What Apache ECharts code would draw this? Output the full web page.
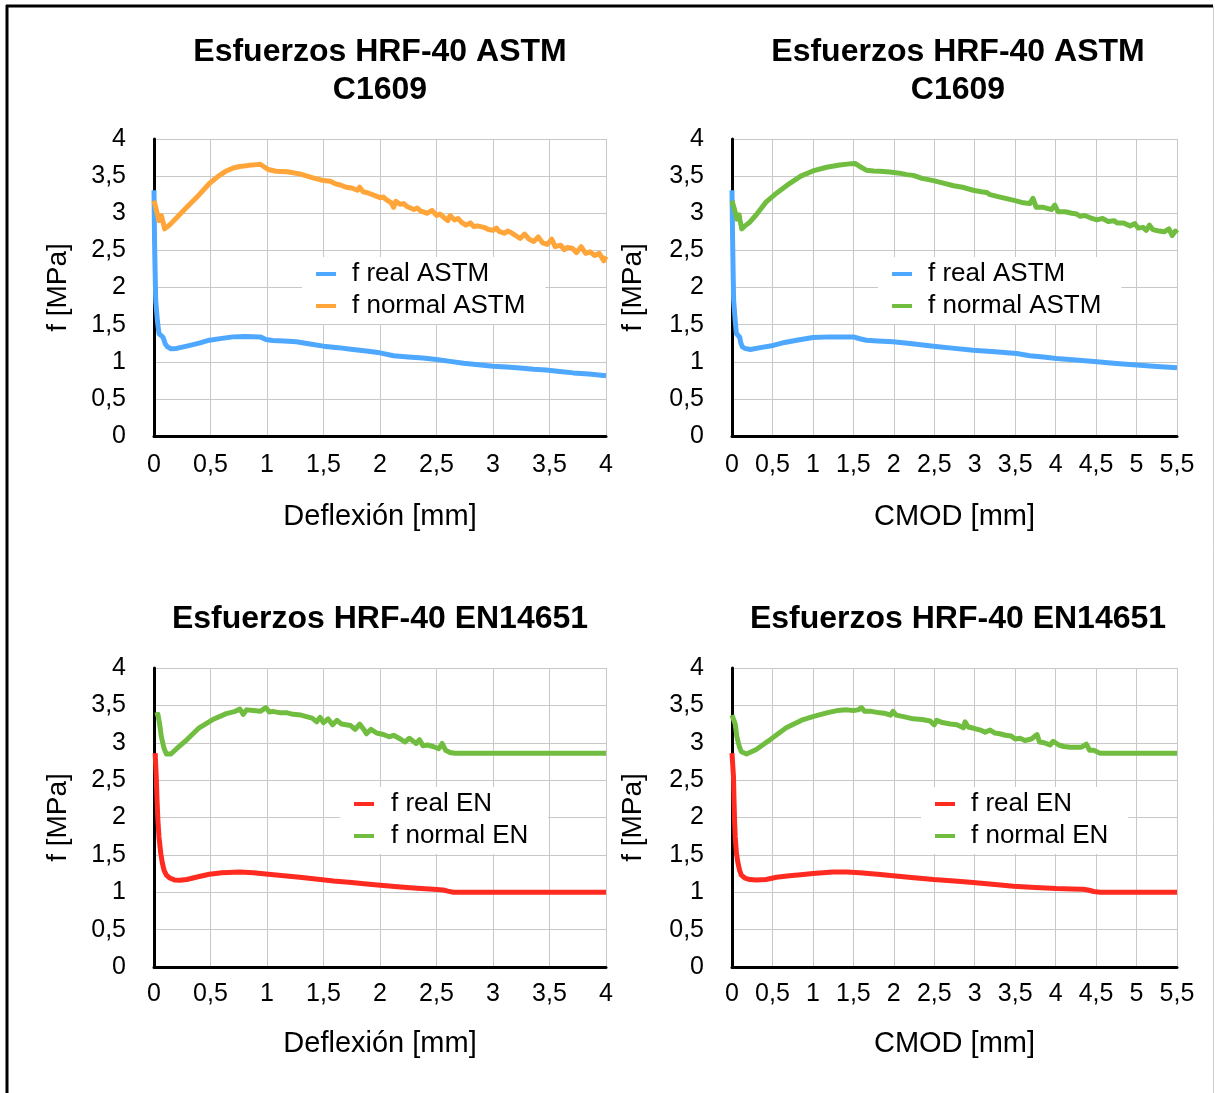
<!DOCTYPE html>
<html>
<head>
<meta charset="utf-8">
<script src="https://cdn.jsdelivr.net/npm/echarts@6/dist/echarts.min.js"></script>
<style>
html,body{margin:0;padding:0;background:#fff;}
#c{width:1215px;height:1093px;}
</style>
</head>
<body>
<div id="c"></div>
<script>
// ---------- DATA ----------
const titles = ['Esfuerzos HRF-40 ASTM\nC1609', 'Esfuerzos HRF-40 ASTM\nC1609', 'Esfuerzos HRF-40 EN14651', 'Esfuerzos HRF-40 EN14651'];
const xNames = ['Deflexión [mm]', 'CMOD [mm]', 'Deflexión [mm]', 'CMOD [mm]'];
const yName = 'f [MPa]';
const xMaxes = [4, 5.5, 4, 5.5];
const seriesNames = [['f real ASTM', 'f normal ASTM'], ['f real ASTM', 'f normal ASTM'], ['f real EN', 'f normal EN'], ['f real EN', 'f normal EN']];

// Chart 1: ASTM, deflection
const astmDefRealX = [0, 0.005, 0.015, 0.03, 0.044, 0.06, 0.08, 0.1, 0.12, 0.15, 0.2, 0.29, 0.4, 0.49, 0.6, 0.7, 0.8, 0.94, 0.99, 1.05, 1.15, 1.26, 1.38, 1.5, 1.63, 1.76, 1.88, 2.0, 2.12, 2.25, 2.38, 2.5, 2.62, 2.74, 2.87, 3.0, 3.12, 3.24, 3.36, 3.47, 3.59, 3.71, 3.85, 4.0];
const astmDefRealY = [3.31, 2.6, 1.83, 1.55, 1.38, 1.36, 1.33, 1.24, 1.2, 1.175, 1.18, 1.21, 1.25, 1.29, 1.315, 1.335, 1.34, 1.335, 1.3, 1.285, 1.28, 1.27, 1.24, 1.21, 1.19, 1.165, 1.145, 1.12, 1.08, 1.065, 1.05, 1.03, 1.005, 0.98, 0.96, 0.94, 0.93, 0.915, 0.9, 0.89, 0.87, 0.85, 0.835, 0.81];
const astmDefNormalX = [0, 0.02, 0.044, 0.065, 0.08, 0.094, 0.12, 0.15, 0.2, 0.29, 0.4, 0.49, 0.57, 0.64, 0.7, 0.76, 0.84, 0.91, 0.94, 0.97, 1.01, 1.08, 1.18, 1.29, 1.4, 1.5, 1.56, 1.6, 1.65, 1.7, 1.75, 1.8, 1.82, 1.85, 1.9, 1.95, 2.0, 2.03, 2.05, 2.1, 2.12, 2.14, 2.18, 2.21, 2.24, 2.3, 2.33, 2.36, 2.42, 2.46, 2.5, 2.53, 2.56, 2.6, 2.62, 2.66, 2.69, 2.72, 2.76, 2.8, 2.83, 2.86, 2.92, 2.96, 3.0, 3.03, 3.05, 3.1, 3.13, 3.16, 3.2, 3.24, 3.28, 3.32, 3.36, 3.4, 3.44, 3.48, 3.52, 3.55, 3.6, 3.63, 3.66, 3.7, 3.74, 3.78, 3.82, 3.86, 3.9, 3.94, 3.98, 4.0];
const astmDefNormalY = [3.17, 3.05, 2.9, 2.97, 2.88, 2.79, 2.82, 2.86, 2.94, 3.08, 3.25, 3.4, 3.5, 3.57, 3.61, 3.63, 3.645, 3.655, 3.66, 3.63, 3.59, 3.565, 3.56, 3.53, 3.48, 3.44, 3.43, 3.4, 3.38, 3.35, 3.34, 3.31, 3.35, 3.29, 3.27, 3.24, 3.21, 3.22, 3.19, 3.14, 3.08, 3.16, 3.12, 3.13, 3.09, 3.05, 3.07, 3.03, 3.0, 3.04, 2.97, 2.99, 2.95, 2.9, 2.97, 2.91, 2.93, 2.88, 2.84, 2.87, 2.82, 2.83, 2.81, 2.78, 2.77, 2.8, 2.76, 2.73, 2.76, 2.74, 2.7, 2.66, 2.72, 2.65, 2.62, 2.68, 2.6, 2.58, 2.65, 2.55, 2.57, 2.51, 2.54, 2.53, 2.47, 2.55, 2.46, 2.48, 2.43, 2.46, 2.36, 2.42];

// Chart 2: ASTM, CMOD
const astmCmodRealX = [0, 0.008, 0.02, 0.04, 0.054, 0.075, 0.095, 0.11, 0.128, 0.16, 0.227, 0.35, 0.51, 0.65, 0.8, 1.0, 1.21, 1.4, 1.5, 1.58, 1.66, 1.8, 1.99, 2.2, 2.49, 2.75, 2.98, 3.25, 3.52, 3.68, 3.85, 4.01, 4.25, 4.51, 4.75, 5.0, 5.25, 5.5];
const astmCmodRealY = [3.31, 2.6, 1.83, 1.55, 1.38, 1.36, 1.33, 1.25, 1.2, 1.18, 1.165, 1.19, 1.22, 1.26, 1.29, 1.326, 1.335, 1.335, 1.335, 1.31, 1.29, 1.28, 1.27, 1.245, 1.21, 1.18, 1.155, 1.135, 1.11, 1.08, 1.065, 1.045, 1.025, 1.0, 0.975, 0.955, 0.935, 0.92];
const astmCmodNormalX = [0, 0.033, 0.06, 0.087, 0.1, 0.12, 0.16, 0.22, 0.3, 0.42, 0.55, 0.71, 0.85, 1.0, 1.17, 1.33, 1.45, 1.52, 1.58, 1.66, 1.75, 1.83, 1.95, 2.07, 2.16, 2.24, 2.35, 2.49, 2.6, 2.74, 2.85, 2.98, 3.08, 3.15, 3.19, 3.3, 3.42, 3.5, 3.6, 3.68, 3.72, 3.76, 3.85, 3.95, 3.99, 4.03, 4.12, 4.2, 4.26, 4.3, 4.36, 4.45, 4.51, 4.58, 4.65, 4.72, 4.76, 4.84, 4.92, 4.98, 5.02, 5.08, 5.12, 5.16, 5.2, 5.28, 5.34, 5.4, 5.44, 5.48, 5.5];
const astmCmodNormalY = [3.17, 3.04, 2.92, 2.98, 2.9, 2.79, 2.83, 2.88, 2.98, 3.15, 3.27, 3.4, 3.5, 3.57, 3.62, 3.65, 3.665, 3.67, 3.63, 3.58, 3.57, 3.565, 3.555, 3.54, 3.52, 3.51, 3.47, 3.44, 3.41, 3.37, 3.35, 3.31, 3.29, 3.28, 3.25, 3.22, 3.19, 3.17, 3.14, 3.13, 3.2, 3.08, 3.08, 3.05, 3.11, 3.02, 3.02, 3.0, 2.99, 2.96, 2.97, 2.93, 2.91, 2.93, 2.89, 2.9, 2.87, 2.87, 2.83, 2.86, 2.8, 2.81, 2.77, 2.84, 2.78, 2.76, 2.75, 2.79, 2.7, 2.76, 2.73];

// Chart 3: EN, deflection
const enDefRealX = [0.01, 0.015, 0.02, 0.027, 0.035, 0.044, 0.06, 0.074, 0.09, 0.11, 0.14, 0.18, 0.23, 0.29, 0.4, 0.49, 0.6, 0.76, 0.88, 0.99, 1.15, 1.29, 1.45, 1.59, 1.75, 1.88, 2.03, 2.18, 2.33, 2.47, 2.56, 2.6, 2.65, 2.8, 3.0, 3.5, 4.0];
const enDefRealY = [2.86, 2.85, 2.55, 2.23, 1.95, 1.74, 1.52, 1.39, 1.29, 1.23, 1.19, 1.165, 1.16, 1.17, 1.21, 1.24, 1.26, 1.27, 1.26, 1.245, 1.22, 1.2, 1.175, 1.15, 1.13, 1.11, 1.09, 1.07, 1.055, 1.04, 1.03, 1.015, 1.0, 1.0, 1.0, 1.0, 1.0];
const enDefNormalX = [0.01, 0.035, 0.05, 0.065, 0.09, 0.11, 0.15, 0.2, 0.29, 0.4, 0.52, 0.64, 0.72, 0.76, 0.79, 0.82, 0.88, 0.94, 0.99, 1.02, 1.05, 1.12, 1.18, 1.23, 1.3, 1.35, 1.4, 1.44, 1.47, 1.5, 1.54, 1.58, 1.62, 1.66, 1.7, 1.74, 1.78, 1.82, 1.86, 1.88, 1.92, 1.97, 2.03, 2.08, 2.12, 2.18, 2.22, 2.26, 2.32, 2.35, 2.38, 2.42, 2.47, 2.52, 2.55, 2.58, 2.62, 2.66, 3.0, 3.5, 4.0];
const enDefNormalY = [3.37, 3.38, 3.25, 3.08, 2.92, 2.85, 2.85, 2.92, 3.04, 3.2, 3.31, 3.39, 3.42, 3.45, 3.38, 3.44, 3.43, 3.42, 3.47, 3.41, 3.42, 3.4, 3.4, 3.38, 3.37, 3.35, 3.33, 3.28, 3.34, 3.27, 3.32, 3.24, 3.3, 3.25, 3.24, 3.23, 3.18, 3.25, 3.17, 3.12, 3.18, 3.13, 3.11, 3.08, 3.1, 3.05, 3.01, 3.06, 2.99, 3.04, 2.96, 2.97, 2.95, 2.92, 2.99, 2.9, 2.87, 2.86, 2.86, 2.86, 2.86];

// Chart 4: EN, CMOD
const enCmodRealX = [0.0, 0.012, 0.018, 0.025, 0.032, 0.04, 0.055, 0.074, 0.095, 0.115, 0.16, 0.22, 0.3, 0.42, 0.55, 0.71, 0.85, 1.0, 1.25, 1.42, 1.58, 1.8, 1.99, 2.25, 2.49, 2.75, 2.98, 3.25, 3.48, 3.75, 4.01, 4.2, 4.34, 4.4, 4.47, 4.55, 4.8, 5.0, 5.5];
const enCmodRealY = [2.86, 2.85, 2.55, 2.23, 1.95, 1.74, 1.52, 1.39, 1.29, 1.23, 1.19, 1.17, 1.165, 1.17, 1.2, 1.22, 1.235, 1.25, 1.27, 1.27, 1.26, 1.24, 1.22, 1.195, 1.17, 1.15, 1.13, 1.105, 1.08, 1.065, 1.05, 1.045, 1.04, 1.03, 1.01, 1.0, 1.0, 1.0, 1.0];
const enCmodNormalX = [0, 0.02, 0.04, 0.06, 0.09, 0.115, 0.18, 0.3, 0.47, 0.67, 0.88, 1.0, 1.1, 1.21, 1.3, 1.42, 1.5, 1.56, 1.6, 1.64, 1.72, 1.83, 1.9, 1.96, 1.99, 2.03, 2.12, 2.24, 2.35, 2.45, 2.5, 2.53, 2.6, 2.7, 2.78, 2.86, 2.88, 2.92, 3.0, 3.07, 3.13, 3.19, 3.25, 3.31, 3.38, 3.45, 3.5, 3.56, 3.62, 3.7, 3.77, 3.8, 3.86, 3.93, 3.97, 4.04, 4.1, 4.18, 4.26, 4.32, 4.38, 4.42, 4.47, 4.55, 5.0, 5.5];
const enCmodNormalY = [3.37, 3.37, 3.25, 3.08, 2.95, 2.88, 2.85, 2.91, 3.04, 3.2, 3.31, 3.35, 3.38, 3.41, 3.43, 3.44, 3.43, 3.44, 3.47, 3.42, 3.42, 3.4, 3.39, 3.37, 3.42, 3.37, 3.35, 3.32, 3.31, 3.29, 3.24, 3.3, 3.27, 3.25, 3.24, 3.2, 3.28, 3.21, 3.19, 3.17, 3.14, 3.17, 3.13, 3.12, 3.1, 3.09, 3.05, 3.06, 3.03, 3.05, 3.11, 3.01, 3.0, 2.97, 3.02, 2.97, 2.95, 2.94, 2.94, 2.94, 2.98, 2.9, 2.9, 2.86, 2.86, 2.86];

const seriesData = [
  [[astmDefRealX, astmDefRealY], [astmDefNormalX, astmDefNormalY]],
  [[astmCmodRealX, astmCmodRealY], [astmCmodNormalX, astmCmodNormalY]],
  [[enDefRealX, enDefRealY], [enDefNormalX, enDefNormalY]],
  [[enCmodRealX, enCmodRealY], [enCmodNormalX, enCmodNormalY]]
];

// ---------- STYLE / LAYOUT ----------
const colors = [['#4fa8ff', '#ffa53a'], ['#4fa8ff', '#70bd40'], ['#ff2b20', '#70bd40'], ['#ff2b20', '#70bd40']];
const gridsPos = [
  {left: 154, top: 139, width: 452, height: 297},
  {left: 732, top: 139, width: 445, height: 297},
  {left: 154, top: 668, width: 452, height: 299},
  {left: 732, top: 668, width: 445, height: 299}
];
const titlePos = [{x: 380, y: 33}, {x: 958, y: 33}, {x: 380, y: 600}, {x: 958, y: 600}];
const legendPos = [{left: 302, top: 257, pad: 11}, {left: 878, top: 257, pad: 11}, {left: 340, top: 787, pad: 12}, {left: 921, top: 787, pad: 11}];
const xLabelMargin = [17, 17, 15, 15];
const xNameGap = [66, 66, 62, 62];
const yNameGap = [82, 85, 82, 85];

const FONT = '"Liberation Sans", Arial, Helvetica, sans-serif';
const fmt = v => String(v).replace('.', ',');

const option = {
  animation: false,
  backgroundColor: '#fff',
  textStyle: {fontFamily: FONT, color: '#000'},
  title: titles.map((t, i) => ({
    text: t,
    left: titlePos[i].x,
    top: titlePos[i].y,
    textAlign: 'center',
    padding: 0,
    textStyle: {fontFamily: FONT, fontSize: 32, fontWeight: 'bold', color: '#000', lineHeight: 38}
  })),
  grid: gridsPos.map(g => Object.assign({containLabel: false}, g)),
  xAxis: xMaxes.map((m, i) => ({
    type: 'value', gridIndex: i, min: 0, max: m, interval: 0.5,
    name: xNames[i], nameLocation: 'middle', nameGap: xNameGap[i],
    nameTextStyle: {fontFamily: FONT, fontSize: 29, color: '#000'},
    axisLine: {show: true, onZero: false, lineStyle: {color: '#000', width: 3}},
    axisTick: {show: false},
    axisLabel: {fontFamily: FONT, fontSize: 25, color: '#000', margin: xLabelMargin[i], formatter: fmt, showMaxLabel: true, showMinLabel: true},
    splitLine: {show: true, lineStyle: {color: '#c8c8c8', width: 1}}
  })),
  yAxis: xMaxes.map((m, i) => ({
    type: 'value', gridIndex: i, min: 0, max: 4, interval: 0.5,
    name: yName, nameLocation: 'middle', nameGap: yNameGap[i], nameRotate: 90,
    nameTextStyle: {fontFamily: FONT, fontSize: 28, color: '#000'},
    axisLine: {show: true, onZero: false, lineStyle: {color: '#000', width: 3}},
    axisTick: {show: false},
    axisLabel: {fontFamily: FONT, fontSize: 25, color: '#000', margin: 28, formatter: fmt, padding: [5, 0, 0, 0]},
    splitLine: {show: true, lineStyle: {color: '#c8c8c8', width: 1}}
  })),
  legend: legendPos.map((p, i) => ({
    orient: 'vertical',
    left: p.left, top: p.top,
    backgroundColor: '#fff',
    padding: [1, 20, 2, 14],
    itemGap: 0,
    itemWidth: 20, itemHeight: 4,
    icon: 'rect',
    selectedMode: false,
    textStyle: {fontFamily: FONT, fontSize: 26, color: '#000', lineHeight: 32, padding: [0, 0, 0, p.pad]},
    data: seriesNames[i].map((n, k) => ({name: n, itemStyle: {color: colors[i][k]}, lineStyle: {color: colors[i][k]}}))
  })),
  series: []
};

seriesData.forEach((pair, i) => {
  pair.forEach((xy, k) => {
    const xs = xy[0], ys = xy[1];
    option.series.push({
      type: 'line',
      name: seriesNames[i][k],
      xAxisIndex: i, yAxisIndex: i,
      showSymbol: false, symbol: 'none',
      lineStyle: {color: colors[i][k], width: 5, join: 'round'},
      itemStyle: {color: colors[i][k]},
      z: 3,
      data: xs.map((x, j) => [x, ys[j]])
    });
  });
});

option.graphic = [
  {type: 'line', shape: {x1: 7, y1: 5, x2: 7, y2: 1093}, style: {stroke: '#000', lineWidth: 3}, z: 100},
  {type: 'line', shape: {x1: 6, y1: 6, x2: 1213, y2: 6}, style: {stroke: '#000', lineWidth: 3}, z: 100},
  {type: 'line', shape: {x1: 1213.5, y1: 6, x2: 1213.5, y2: 1093}, style: {stroke: '#cfcfcf', lineWidth: 1}, z: 100}
];

const chart = echarts.init(document.getElementById('c'), null, {renderer: 'canvas'});
chart.setOption(option);
</script>
</body>
</html>
